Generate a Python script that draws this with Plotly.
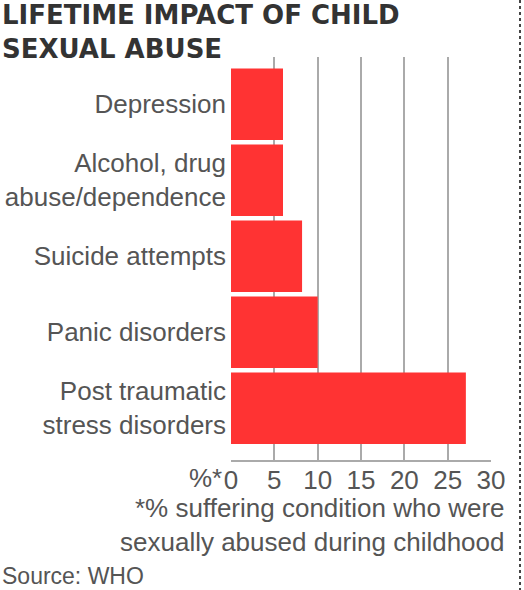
import plotly.graph_objects as go

categories = ["Depression", "Alcohol, drug<br>abuse/dependence", "Suicide attempts",
              "Panic disorders", "Post traumatic<br>stress disorders"]
values = [6, 6, 8.2, 10, 27.1]
tick_vals = [0, 5, 10, 15, 20, 25, 30]
tick_text = ["0", "5", "10", "15", "20", "25", "30"]

W, H = 524, 590
L, R, T, B = 231, 33, 57, 130
pw, ph = W - L - R, H - T - B

def px_x(x):
    return (x - L) / pw

def px_y(y):
    return (H - B - y) / ph

fig = go.Figure(go.Bar(
    x=values, y=categories, orientation="h",
    marker=dict(color="#ff3333", line=dict(width=0)),
    width=0.94,
))

lab_font = dict(family="Liberation Sans, Arial, sans-serif", size=26, color="#555555")

fig.update_layout(
    width=W, height=H,
    margin=dict(l=L, r=R, t=T, b=B, pad=0, autoexpand=False),
    paper_bgcolor="white", plot_bgcolor="white",
    showlegend=False,
    xaxis=dict(range=[0, 30], tickvals=tick_vals, ticktext=tick_text,
               showgrid=True, gridcolor="#aaaaaa", gridwidth=2,
               showline=True, linecolor="#aaaaaa", linewidth=2,
               zeroline=False, ticks="", tickfont=lab_font, automargin=False,
               ticklabelstandoff=-4, fixedrange=True),
    yaxis=dict(range=[4.68, -0.62], showgrid=False, zeroline=False,
               showline=False, ticks="", tickfont=lab_font, automargin=False,
               ticklabelstandoff=4, fixedrange=True),
    annotations=[
        dict(text="<b>LIFETIME IMPACT OF CHILD<br>SEXUAL ABUSE</b>",
             xref="paper", yref="paper", x=px_x(0), y=px_y(-2),
             xanchor="left", yanchor="top", align="left", showarrow=False,
             font=dict(family="DejaVu Sans, Verdana, sans-serif", size=26, color="#333333")),
        dict(text="%*", xref="paper", yref="paper", x=px_x(224), y=px_y(478),
             xanchor="right", yanchor="middle", showarrow=False, font=lab_font),
        dict(text="*% suffering condition who were<br>sexually abused during childhood",
             xref="paper", yref="paper", x=px_x(507), y=px_y(491),
             xanchor="right", yanchor="top", align="right", showarrow=False,
             font=lab_font),
        dict(text="Source: WHO", xref="paper", yref="paper", x=px_x(0), y=px_y(576),
             xanchor="left", yanchor="middle", showarrow=False,
             font=dict(family="Liberation Sans, Arial, sans-serif", size=23, color="#555555")),
    ],
    shapes=[
        dict(type="line", xref="paper", yref="paper", x0=px_x(520), x1=px_x(520),
             y0=px_y(0), y1=px_y(590), line=dict(color="#444444", width=2, dash="dot")),
    ],
)

fig.write_html("out.html", config={"displayModeBar": False},
               post_script="document.body.style.margin='0';")
